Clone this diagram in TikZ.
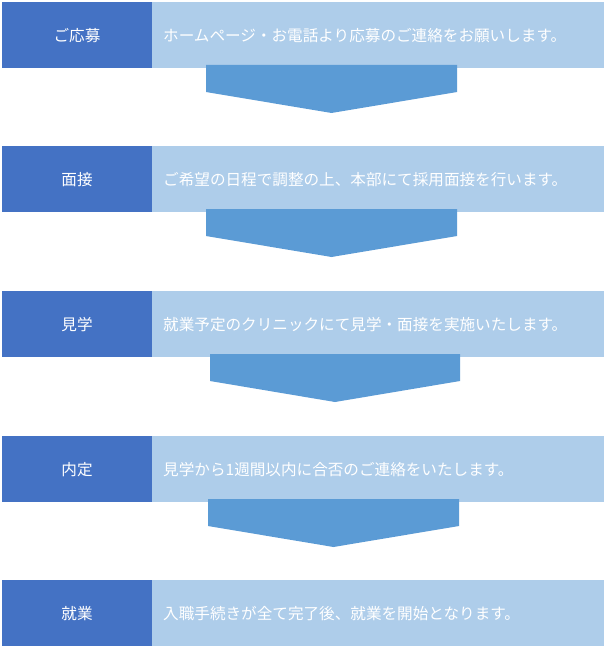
\documentclass[tikz,border=0pt]{standalone}
\usepackage{fontspec}
\setmainfont{Noto Sans CJK JP}
\begin{document}
\begin{tikzpicture}[x=1pt,y=-1pt,
  stepbox/.style={fill=darkblue,draw=none},
  descbox/.style={fill=lightblue,draw=none},
  arrowshape/.style={fill=arrowblue,draw=none},
  lbl/.style={text=white,font=\fontsize{15.6pt}{18pt}\selectfont,inner sep=0pt},
]
\definecolor{darkblue}{HTML}{4472C4}
\definecolor{lightblue}{HTML}{AECDEA}
\definecolor{arrowblue}{HTML}{5B9BD5}
\useasboundingbox (0,0) rectangle (606,650);
\fill[white] (0,0) rectangle (606,650);
% rows
\foreach \i/\t/\a/\b in {
  1/2/ご応募/ホームページ・お電話より応募のご連絡をお願いします。,
  2/146/面接/ご希望の日程で調整の上、本部にて採用面接を行います。,
  3/291/見学/就業予定のクリニックにて見学・面接を実施いたします。,
  4/436/内定/見学から1週間以内に合否のご連絡をいたします。,
  5/580/就業/入職手続きが全て完了後、就業を開始となります。}{
  \fill[descbox] (152,\t) rectangle (604,\t+66);
  \fill[stepbox] (2,\t) rectangle (152,\t+66);
  \node[lbl] (s\i) at (77,\t+34) {\a};
  \node[lbl,anchor=west] (d\i) at (163,\t+34) {\b};
}
% arrows
\foreach \i/\xa/\xb/\yt in {1/206/457/65, 2/206/457/209, 3/210/460/354, 4/208/459/499}{
  \fill[arrowshape] (\xa,\yt) -- (\xb,\yt) -- (\xb,\yt+27) -- ({(\xa+\xb)/2},\yt+48) -- (\xa,\yt+27) -- cycle;
}
\end{tikzpicture}
\end{document}
